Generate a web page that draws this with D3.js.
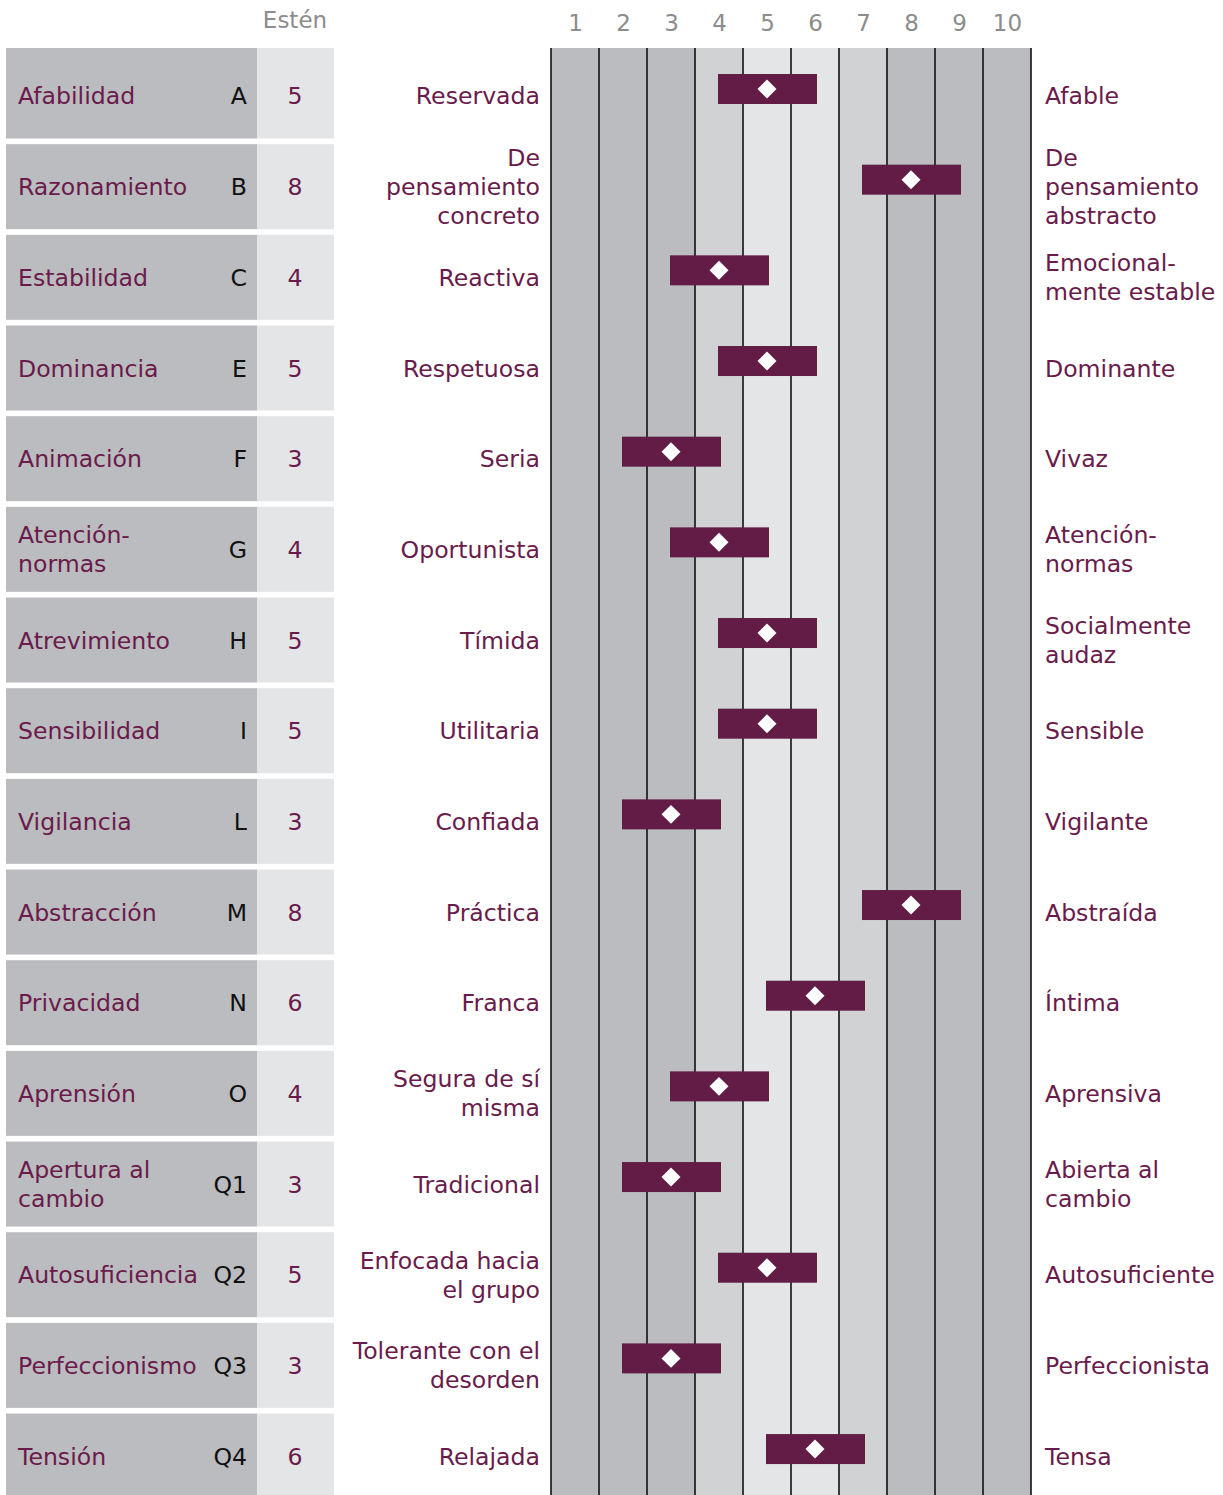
<!DOCTYPE html>
<html>
<head>
<meta charset="utf-8">
<script src="https://cdn.jsdelivr.net/npm/d3@7"></script>
<style>
  html, body { margin: 0; padding: 0; background: #fff; }
  svg { display: block; font-family: "DejaVu Sans", Verdana, sans-serif; }
</style>
</head>
<body>
<svg id="chart"></svg>
<script>
// Factor rows (16PF profile)
const factors = [
  "Afabilidad", "Razonamiento", "Estabilidad", "Dominancia", "Animación",
  "Atención-\nnormas", "Atrevimiento", "Sensibilidad", "Vigilancia",
  "Abstracción", "Privacidad", "Aprensión", "Apertura al\ncambio",
  "Autosuficiencia", "Perfeccionismo", "Tensión",
];
const letters = ["A", "B", "C", "E", "F", "G", "H", "I", "L", "M", "N", "O", "Q1", "Q2", "Q3", "Q4"];
const scores = [5, 8, 4, 5, 3, 4, 5, 5, 3, 8, 6, 4, 3, 5, 3, 6];
const lowPoles = [
  "Reservada", "De\npensamiento\nconcreto", "Reactiva", "Respetuosa", "Seria",
  "Oportunista", "Tímida", "Utilitaria", "Confiada", "Práctica", "Franca",
  "Segura de sí\nmisma", "Tradicional", "Enfocada hacia\nel grupo",
  "Tolerante con el\ndesorden", "Relajada",
];
const highPoles = [
  "Afable", "De\npensamiento\nabstracto", "Emocional-\nmente estable", "Dominante",
  "Vivaz", "Atención-\nnormas", "Socialmente\naudaz", "Sensible", "Vigilante",
  "Abstraída", "Íntima", "Aprensiva", "Abierta al\ncambio", "Autosuficiente",
  "Perfeccionista", "Tensa",
];
const stenTicks = [1, 2, 3, 4, 5, 6, 7, 8, 9, 10];

const COL = {
  dark: "#bbbcbf",
  mid: "#d1d2d4",
  light: "#e4e5e7",
  bar: "#621c46",
  text: "#6a1b4b",
  grey: "#8c8c8c",
};
// shading of each sten column
const stenShade = [COL.dark, COL.dark, COL.dark, COL.mid, COL.light, COL.light, COL.mid, COL.dark, COL.dark, COL.dark];

const W = 1223, H = 1495;
const fs = 23.6;
const lineH = 29;
const gridTop = 48;

const svg = d3.select("#chart").attr("width", W).attr("height", H);

const x = d3.scaleLinear().domain([0.5, 10.5]).range([551, 1031]);
const y = d3.scaleBand()
  .domain(d3.range(factors.length))
  .range([53.5, 53.5 + 90.67 * (factors.length - 0.0625)])
  .paddingInner(0.0625)
  .paddingOuter(0);
const rowMid = (i) => y(i) + y.bandwidth() / 2;

// multi-line text helper, block centred on cy
function multiText(g, str, tx, cy, anchor, fill) {
  const lines = str.split("\n");
  const t = g.append("text")
    .attr("text-anchor", anchor)
    .attr("fill", fill)
    .attr("font-size", fs);
  lines.forEach((ln, k) => {
    t.append("tspan")
      .attr("x", tx)
      .attr("y", cy + (k - (lines.length - 1) / 2) * lineH)
      .attr("dy", "0.36em")
      .text(ln);
  });
}

// Left table
const table = svg.append("g");
factors.forEach((f, i) => {
  const top = i === 0 ? gridTop : y(i);
  const bottom = y(i) + y.bandwidth();
  table.append("rect").attr("x", 6).attr("y", top).attr("width", 251)
    .attr("height", bottom - top).attr("fill", COL.dark);
  table.append("rect").attr("x", 257).attr("y", top).attr("width", 77)
    .attr("height", bottom - top).attr("fill", COL.light);
  multiText(table, f, 18, rowMid(i), "start", COL.text);
  multiText(table, letters[i], 247, rowMid(i), "end", "#111");
  multiText(table, String(scores[i]), 295, rowMid(i), "middle", COL.text);
});

svg.append("text")
  .attr("x", 295).attr("y", 20).attr("dy", "0.36em")
  .attr("text-anchor", "middle").attr("fill", COL.grey).attr("font-size", 23)
  .text("Estén");

// Sten grid columns
const grid = svg.append("g");
stenTicks.forEach((s, k) => {
  grid.append("rect")
    .attr("x", x(s - 0.5)).attr("y", gridTop)
    .attr("width", x(s + 0.5) - x(s - 0.5)).attr("height", H - gridTop)
    .attr("fill", stenShade[k]);
});

// Header ticks via axis
svg.append("g")
  .attr("transform", `translate(0,${gridTop})`)
  .call(d3.axisTop(x).tickValues(stenTicks).tickSize(0).tickPadding(17))
  .call((a) => a.select(".domain").remove())
  .call((a) => a.selectAll("text")
    .attr("fill", COL.grey).attr("font-size", 23)
    .attr("font-family", "DejaVu Sans, Verdana, sans-serif"));

// Vertical separators
grid.selectAll("line.sep")
  .data(d3.range(0.5, 11, 1))
  .join("line")
  .attr("x1", (d) => x(d)).attr("x2", (d) => x(d))
  .attr("y1", gridTop).attr("y2", H)
  .attr("stroke", "#111").attr("stroke-width", 1.6);

// Score bars
const barH = 30;
const marks = svg.append("g");
scores.forEach((s, i) => {
  const cy = rowMid(i) - 7;
  marks.append("rect")
    .attr("x", x(s - 1) - 1).attr("y", cy - barH / 2)
    .attr("width", x(s + 1) - x(s - 1) + 3).attr("height", barH)
    .attr("fill", COL.bar);
  marks.append("path")
    .attr("d", d3.symbol(d3.symbolSquare, 180)())
    .attr("transform", `translate(${x(s)},${cy}) rotate(45)`)
    .attr("fill", "#fff");
});

// Pole labels
const poles = svg.append("g");
lowPoles.forEach((p, i) => multiText(poles, p, 540, rowMid(i), "end", COL.text));
highPoles.forEach((p, i) => multiText(poles, p, 1045, rowMid(i), "start", COL.text));
</script>
</body>
</html>
